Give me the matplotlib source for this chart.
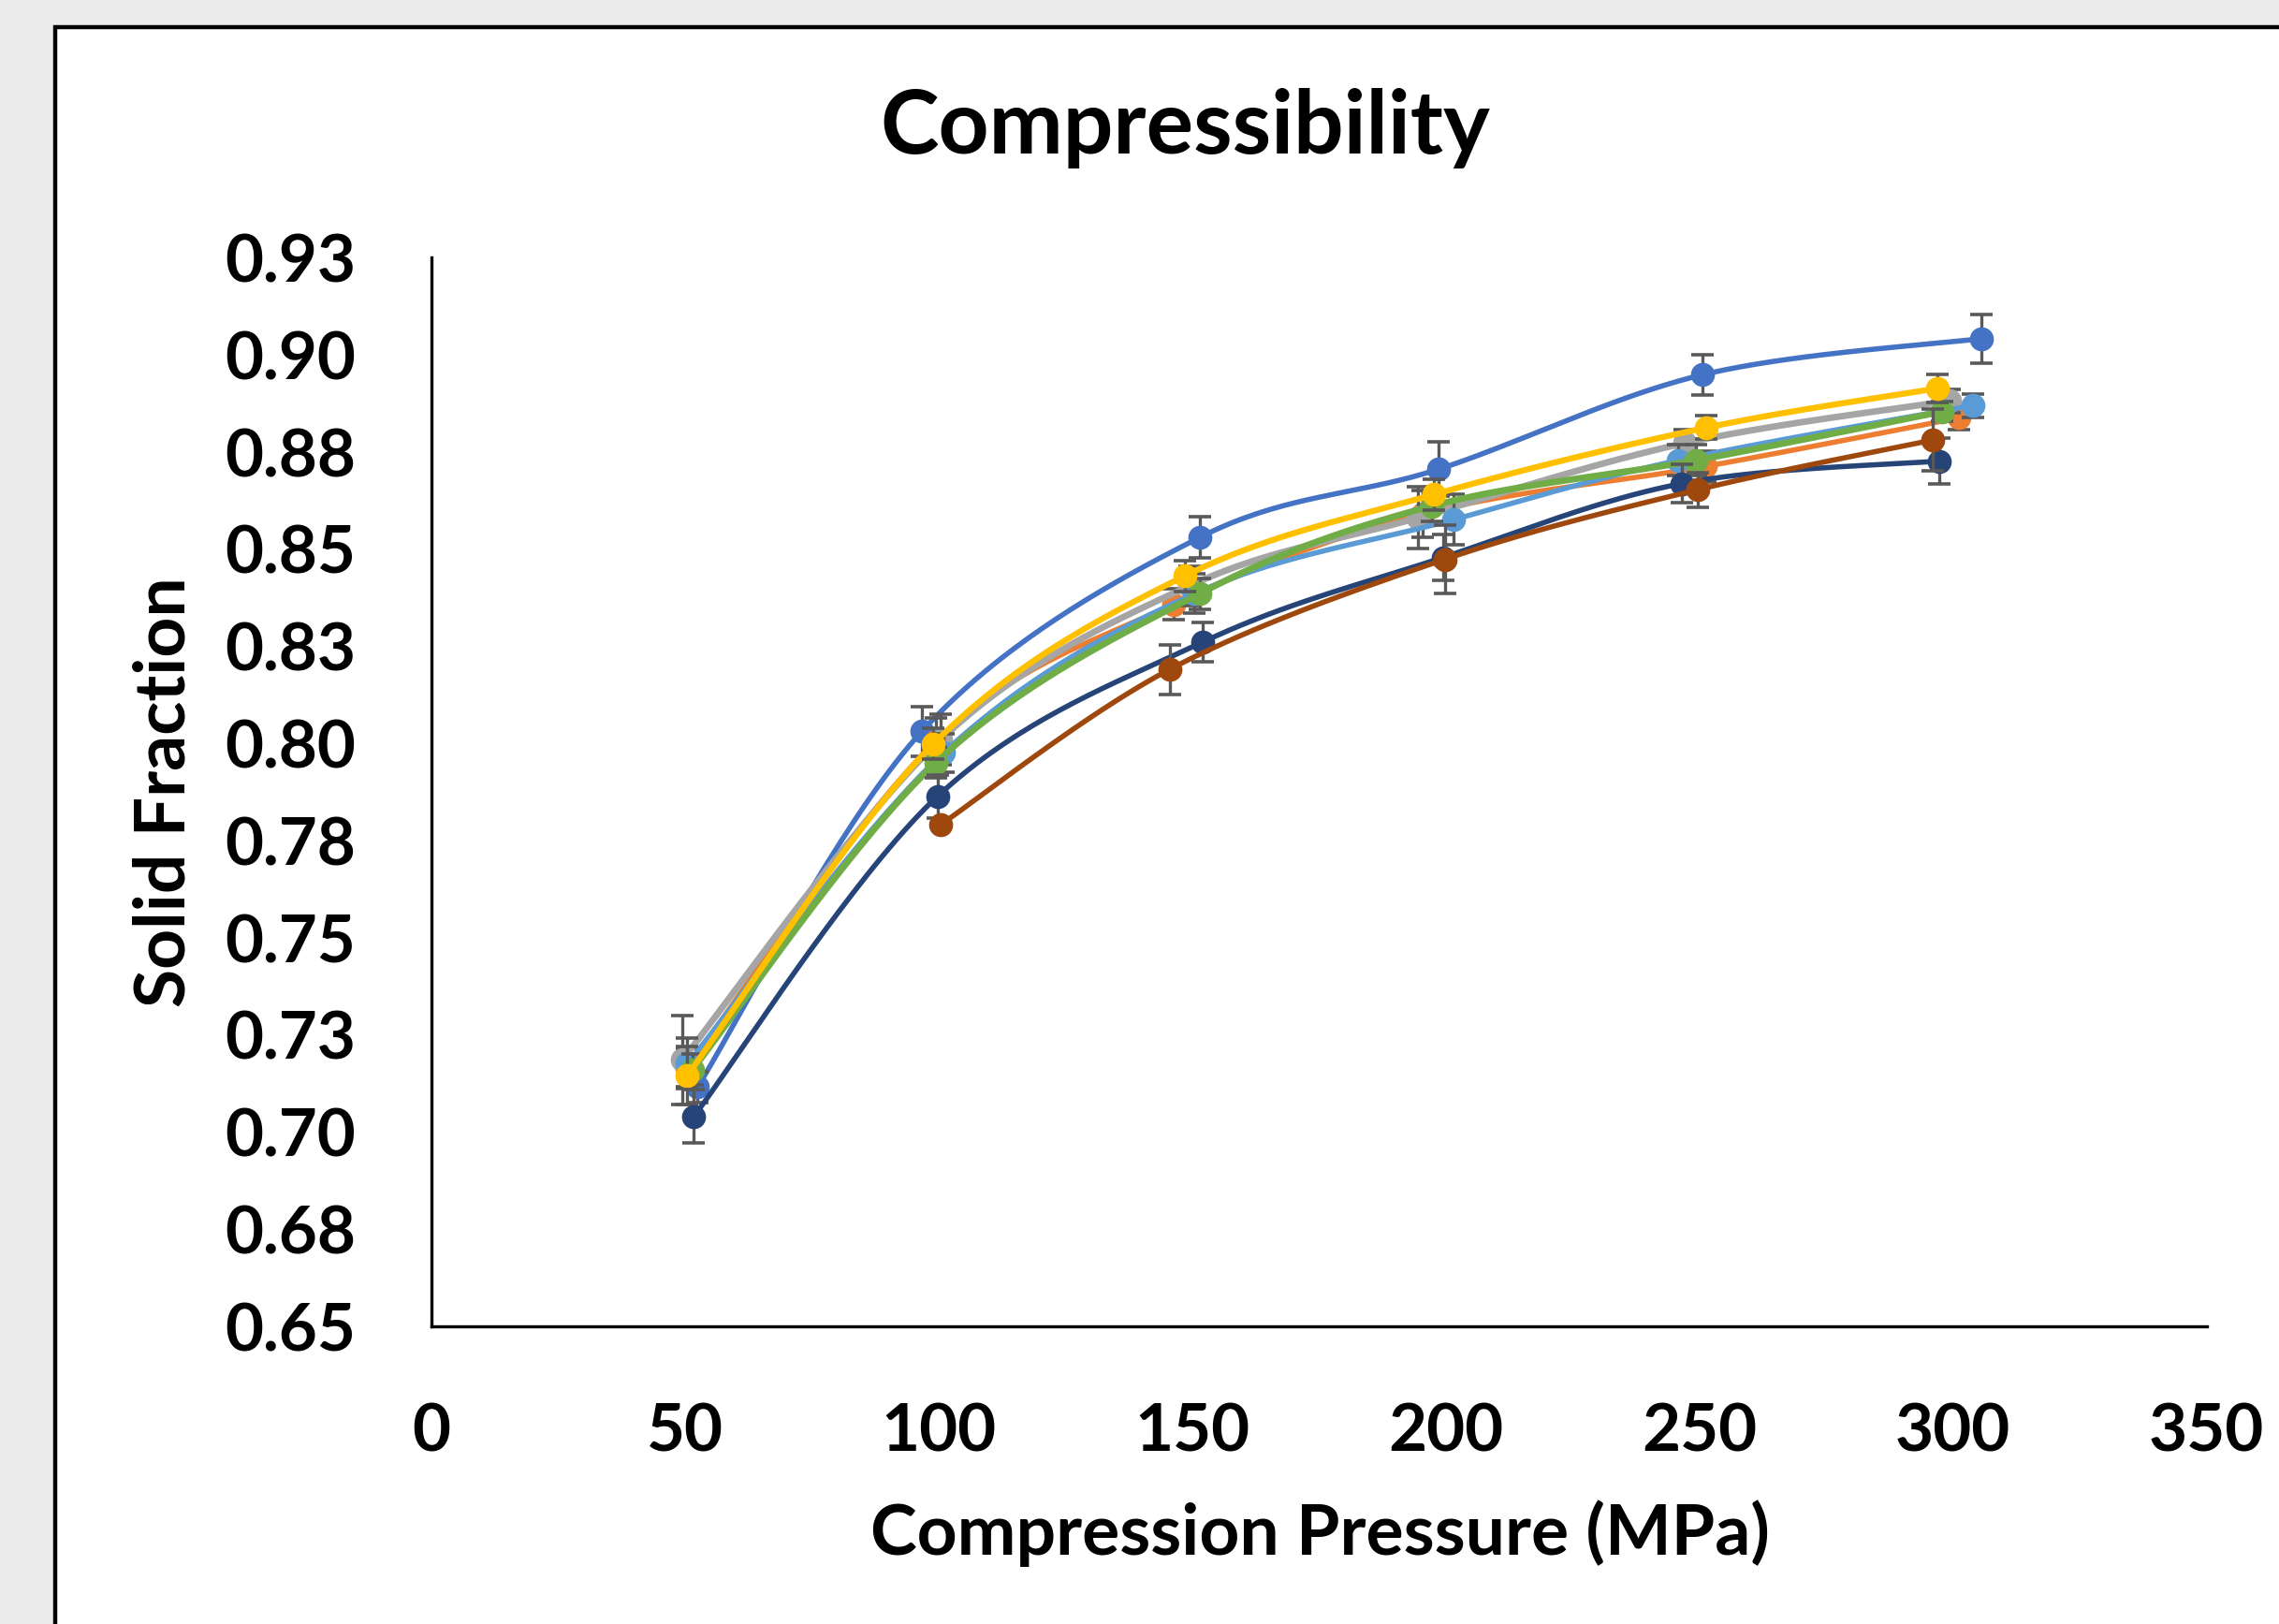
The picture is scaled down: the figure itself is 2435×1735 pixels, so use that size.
import numpy as np
import matplotlib
matplotlib.use("Agg")
import matplotlib.pyplot as plt
from matplotlib.patches import Rectangle

plt.rcParams['font.family'] = ['Lato', 'DejaVu Sans']
plt.rcParams['font.weight'] = 'bold'

# --- data ---
series_colors = ['#4472C4', '#ED7D31', '#A5A5A5', '#5B9BD5', '#70AD47', '#FFC000', '#264478', '#9E480E']
series_widths = [4.0, 4.0, 5.0, 4.0, 5.0, 4.6, 4.0, 4.0]

blue_x = [52.5, 96.7, 151.6, 198.6, 250.6, 305.5]
blue_y = [0.7115, 0.8030, 0.8530, 0.8705, 0.8948, 0.9041]
blue_err = [0.004, 0.0065, 0.0052, 0.007, 0.0051, 0.0062]

orange_x = [50.5, 99.5, 146.3, 195.5, 251.1, 301.2]
orange_y = [0.7165, 0.8005, 0.8357, 0.8590, 0.8712, 0.8837]
orange_err = [0.005, 0.006, 0.004, 0.006, 0.004, 0.003]

grey_x = [49.5, 100.5, 149.5, 194.5, 247.1, 299.4]
grey_y = [0.7185, 0.8010, 0.8405, 0.8580, 0.8772, 0.8881]
grey_err = [0.0115, 0.0065, 0.005, 0.008, 0.0036, 0.003]

ltblue_x = [50.5, 101.0, 150.5, 201.5, 245.9, 304.0]
ltblue_y = [0.7175, 0.7975, 0.8385, 0.8575, 0.8728, 0.8869]
ltblue_err = [0.0065, 0.005, 0.005, 0.0065, 0.004, 0.003]

green_x = [51.5, 99.5, 151.5, 197.2, 249.3, 297.8]
green_y = [0.7160, 0.7950, 0.8385, 0.8610, 0.8728, 0.8853]
green_err = [0.004, 0.004, 0.004, 0.004, 0.004, 0.0025]

yellow_x = [50.5, 99.0, 148.5, 197.7, 251.4, 296.9]
yellow_y = [0.7145, 0.7998, 0.8430, 0.8640, 0.8812, 0.8913]
yellow_err = [0.0075, 0.004, 0.004, 0.004, 0.003, 0.0036]

navy_x = [51.8, 99.8, 152.1, 199.5, 246.5, 297.2]
navy_y = [0.7040, 0.7863, 0.8260, 0.8478, 0.8668, 0.8726]
navy_err = [0.0068, 0.0055, 0.005, 0.006, 0.005, 0.0058]

brown_x = [100.4, 145.6, 199.8, 249.6, 296.0]
brown_y = [0.7790, 0.8190, 0.8473, 0.8652, 0.8780]
brown_err = [0.0, 0.0064, 0.0088, 0.0044, 0.008]

y_ticks = [0.65, 0.675, 0.70, 0.725, 0.75, 0.775, 0.80, 0.825, 0.85, 0.875, 0.90, 0.925]
y_tick_labels = ['0.65', '0.68', '0.70', '0.73', '0.75', '0.78', '0.80', '0.83', '0.85', '0.88', '0.90', '0.93']
x_ticks = [0, 50, 100, 150, 200, 250, 300, 350]


def smooth(xs, ys, n=40):
    # excel style smoothed line: catmull-rom bezier through the points
    p = np.column_stack([xs, ys])
    pts = np.vstack([p[0], p, p[-1]])
    out = []
    t = np.linspace(0, 1, n)[:, None]
    for i in range(1, len(pts) - 2):
        p0, p1 = pts[i], pts[i + 1]
        c1 = p0 + (pts[i + 1] - pts[i - 1]) / 6.0
        c2 = p1 - (pts[i + 2] - pts[i]) / 6.0
        seg = (1 - t) ** 3 * p0 + 3 * (1 - t) ** 2 * t * c1 + 3 * (1 - t) * t ** 2 * c2 + t ** 3 * p1
        out.append(seg)
    out = np.vstack(out)
    return out[:, 0], out[:, 1]


W, H = 2435, 1735
fig = plt.figure(figsize=(W / 100, H / 100), dpi=100)
fig.patch.set_facecolor('#EBEBEB')

# white chart area with black border (cut off at right/bottom)
fig.patches.append(Rectangle((59 / W, -0.05), 1.2, 1 - 29 / H + 0.05, transform=fig.transFigure,
                             facecolor='white', edgecolor='black', linewidth=3.2, zorder=-5))

ax = fig.add_axes([460.7 / W, 1 - 1416.7 / H, (2357.7 - 460.7) / W, (1416.7 - 275) / H])
ax.set_facecolor('none')
ax.set_zorder(2)

all_series = [
    (blue_x, blue_y, blue_err),
    (orange_x, orange_y, orange_err),
    (grey_x, grey_y, grey_err),
    (ltblue_x, ltblue_y, ltblue_err),
    (green_x, green_y, green_err),
    (yellow_x, yellow_y, yellow_err),
    (navy_x, navy_y, navy_err),
    (brown_x, brown_y, brown_err),
]

for k, (xs, ys, es) in enumerate(all_series):
    c = series_colors[k]
    z = 3 + k * 3
    sx, sy = smooth(xs, ys)
    ax.plot(sx, sy, color=c, lw=series_widths[k], zorder=z, solid_capstyle='round')
    ax.errorbar(xs, ys, yerr=es, fmt='none', ecolor='#595959', elinewidth=2.4,
                capsize=8.5, capthick=2.6, zorder=z + 1)
    ax.plot(xs, ys, 'o', color=c, markersize=18.5, markeredgewidth=0, zorder=z + 2)

ax.set_xlim(0, 350)
ax.set_ylim(0.65, 0.925)
ax.set_xticks(x_ticks)
ax.set_yticks(y_ticks)
ax.set_yticklabels(y_tick_labels)
ax.tick_params(length=0, labelsize=51, pad=58)
for lab in ax.get_xticklabels() + ax.get_yticklabels():
    lab.set_fontweight('bold')

for s in ['top', 'right']:
    ax.spines[s].set_visible(False)
for s in ['left', 'bottom']:
    ax.spines[s].set_linewidth(2.4)
    ax.spines[s].set_color('black')
    ax.spines[s].set_zorder(50)

fig.text(1266 / W, 1 - 137 / H, 'Compressibility', ha='center', va='center',
         fontsize=68, fontweight='bold')
fig.text(1410 / W, 1 - 1638 / H, 'Compression Pressure (MPa)', ha='center', va='center',
         fontsize=54, fontweight='bold')
fig.text(176 / W, 1 - 846 / H, 'Solid Fraction', ha='center', va='center', rotation=90,
         fontsize=54, fontweight='bold')

fig.savefig('out.png', dpi=100, facecolor=fig.get_facecolor())
